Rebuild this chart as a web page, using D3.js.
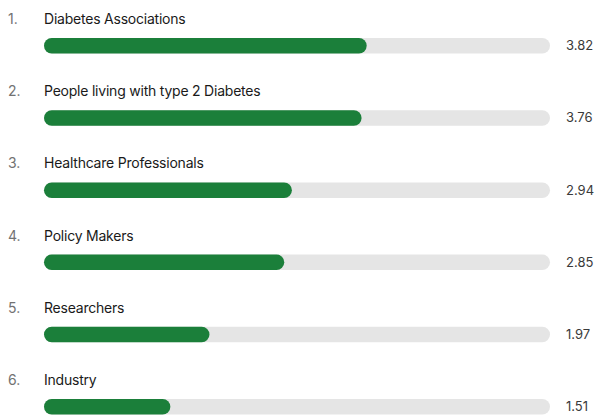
<!DOCTYPE html>
<html>
<head>
<meta charset="utf-8">
<script src="https://cdn.jsdelivr.net/npm/d3@7"></script>
<style>
  html, body { margin: 0; padding: 0; background: #ffffff; }
  svg { display: block; font-family: Inter, "Noto Sans", sans-serif; }
</style>
</head>
<body>
<svg id="chart" width="597" height="415"></svg>
<script>
const categories = [
  "Diabetes Associations",
  "People living with type 2 Diabetes",
  "Healthcare Professionals",
  "Policy Makers",
  "Researchers",
  "Industry"
];
const values = [3.82, 3.76, 2.94, 2.85, 1.97, 1.51];
const ranks = ["1.", "2.", "3.", "4.", "5.", "6."];
const valueLabels = ["3.82", "3.76", "2.94", "2.85", "1.97", "1.51"];
const domainMax = 6;

const svg = d3.select("#chart");
const barLeft = 44, barRight = 550, barH = 15.5;

const x = d3.scaleLinear().domain([0, domainMax]).range([42, 552]);
const y = d3.scaleBand().domain(categories).range([8, 8 + 72.2 * 6]).paddingInner(0).paddingOuter(0);

const rows = svg.selectAll("g.row").data(categories).join("g")
  .attr("class", "row")
  .attr("transform", d => `translate(0,${y(d)})`);

rows.append("text")
  .attr("x", 8).attr("y", 16)
  .attr("font-size", 14).attr("fill", "#727272")
  .text((d, i) => ranks[i]);

rows.append("text")
  .attr("x", barLeft).attr("y", 16)
  .attr("font-size", 14).attr("fill", "#1a1a1a")
  .attr("letter-spacing", "-0.22px")
  .text(d => d);

rows.append("rect")
  .attr("x", barLeft).attr("y", 30)
  .attr("width", barRight - barLeft).attr("height", barH)
  .attr("rx", barH / 2)
  .attr("fill", "#e5e5e5");

rows.append("rect")
  .attr("x", barLeft).attr("y", 30)
  .attr("width", (d, i) => x(values[i]) - barLeft).attr("height", barH)
  .attr("rx", barH / 2)
  .attr("fill", "#1b7f3a");

rows.append("text")
  .attr("x", 566).attr("y", 30 + barH / 2)
  .attr("dy", "0.35em")
  .attr("font-size", 13).attr("fill", "#3a3a3a")
  .text((d, i) => valueLabels[i]);
</script>
</body>
</html>
